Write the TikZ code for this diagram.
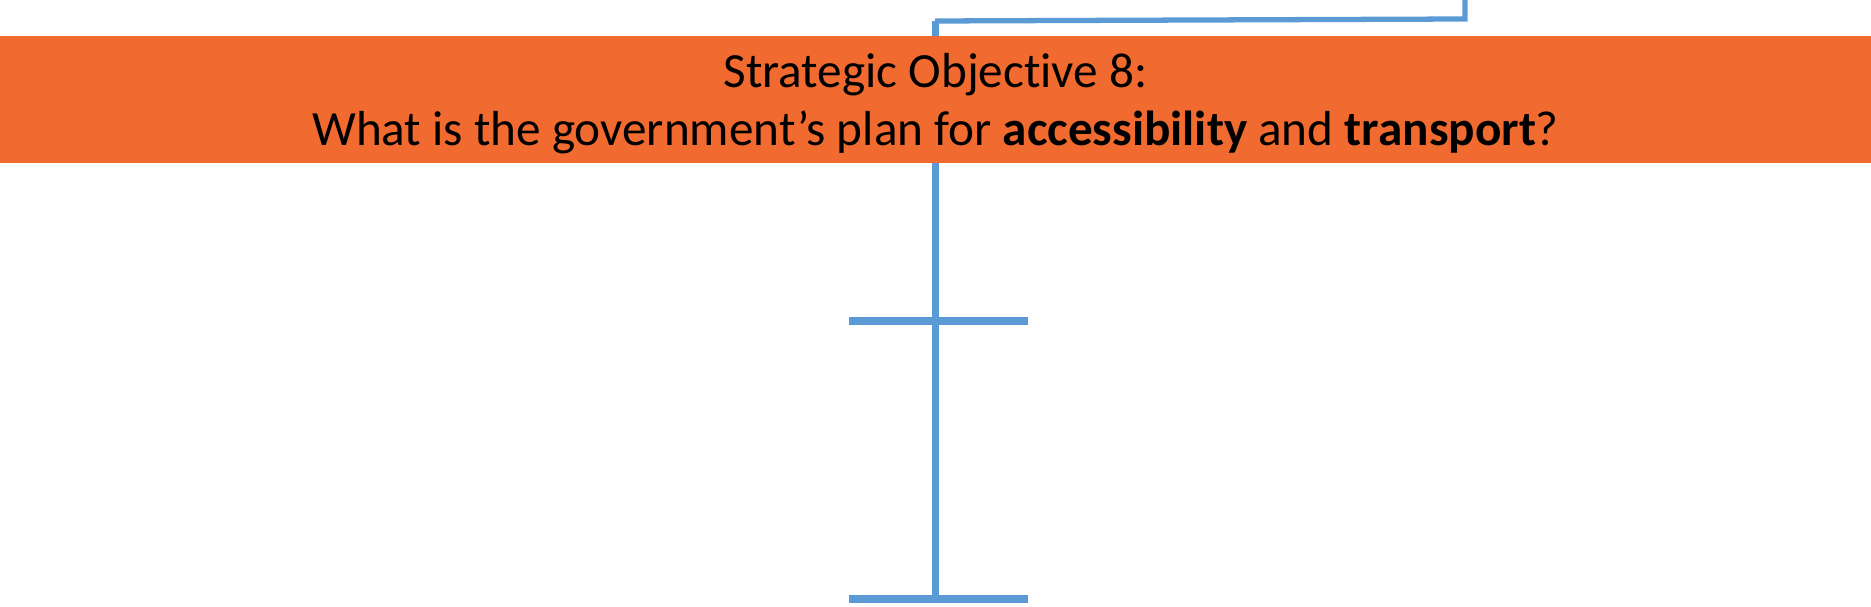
\documentclass[tikz,border=0pt]{standalone}
\usepackage{fontspec}
\setmainfont[Ligatures=NoCommon]{Carlito}
\usetikzlibrary{positioning}
\definecolor{banner}{HTML}{F16A2F}
\definecolor{link}{HTML}{5B9BD5}
\tikzset{
  band/.style={fill=banner, draw=none, inner sep=0pt, minimum width=37.42cm, minimum height=2.54cm},
  title/.style={inner sep=0pt, align=center, text=black, font=\fontsize{28pt}{33.2pt}\selectfont},
  wire/.style={draw=link, line width=4pt},
  thin wire/.style={draw=link, line width=3pt},
}
\begin{document}
\begin{tikzpicture}[x=0.02cm, y=-0.02cm]
    \useasboundingbox (0,0) rectangle (1871,607);
    % tree lines, behind the banner
    \coordinate (up) at (1465,0);
    \coordinate (elbow) at (1465,19);
    \coordinate (root) at (935,21);
    \coordinate (foot) at (935,599);
    \coordinate (barAl) at (849,321);
    \coordinate (barAr) at (1028,321);
    \coordinate (barBl) at (849,599);
    \coordinate (barBr) at (1028,599);
    \draw[thin wire] (up) -- (elbow) -- (root);
    \draw[wire] (root) -- (foot);
    \draw[wire] (barAl) -- (barAr);
    \draw[wire] (barBl) -- (barBr);
    \node[band] (so8) at (935.5,99.5) {};
    \node[title, yshift=-0.08cm] (so8text) at (so8.center) {Strategic Objective 8:\\What is the government’s plan for \textbf{accessibility} and \textbf{transport}?};
\end{tikzpicture}
\end{document}
